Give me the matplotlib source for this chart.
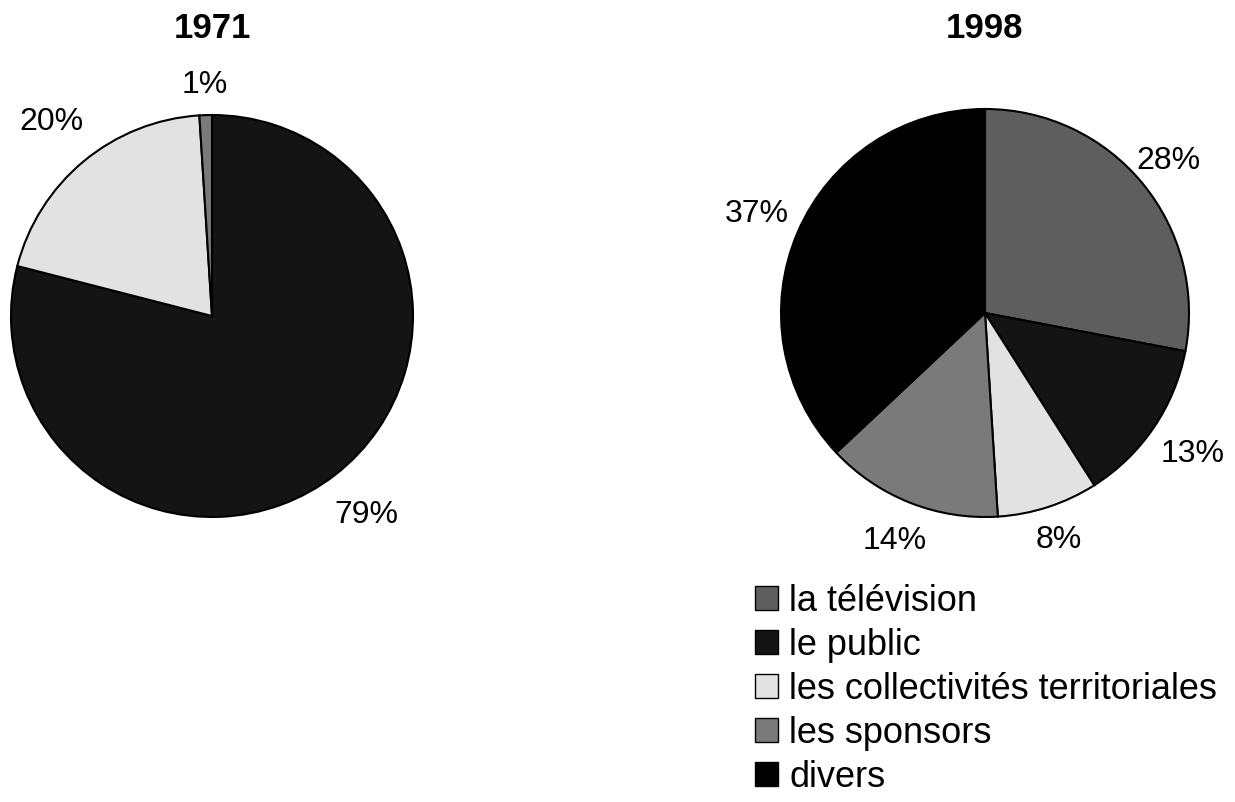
import matplotlib
matplotlib.use("Agg")
import numpy as np
import matplotlib.pyplot as plt
from matplotlib.patches import Patch

plt.rcParams['font.family'] = ['Liberation Sans', 'DejaVu Sans']

categories = ["la télévision", "le public", "les collectivités territoriales",
              "les sponsors", "divers"]
colors = ["#5e5e5e", "#141414", "#e2e2e2", "#7a7a7a", "#000000"]

years = ["1971", "1998"]
vals_1971 = [0, 79, 20, 1, 0]
vals_1998 = [28, 13, 8, 14, 37]

W, H = 1235, 802
fig = plt.figure(figsize=(W / 100, H / 100), dpi=100)

def add_pie(cx, cy, r, vals, title, dists):
    ax = fig.add_axes([(cx - r) / W, 1 - (cy + r) / H, 2 * r / W, 2 * r / H])
    idx = [i for i, v in enumerate(vals) if v > 0]
    v = [vals[i] for i in idx]
    c = [colors[i] for i in idx]
    wedges, texts, autotexts = ax.pie(
        v, colors=c, startangle=90, counterclock=False,
        autopct='%d%%', pctdistance=1.2,
        wedgeprops=dict(edgecolor='black', linewidth=1.5),
        textprops=dict(fontsize=23, color='black'), radius=1.0)
    for w, t, d in zip(wedges, autotexts, dists):
        a = np.deg2rad((w.theta1 + w.theta2) / 2)
        t.set_position((d * np.cos(a), d * np.sin(a)))
    ax.set_xlim(-1, 1)
    ax.set_ylim(-1, 1)
    ax.set_aspect('equal')
    ax.axis('off')
    fig.text(cx / W, 1 - 28 / H, title, ha='center', va='center',
             fontsize=25, fontweight='bold')
    return ax

add_pie(212, 316, 201, vals_1971, years[0], [1.25, 1.25, 1.15])
add_pie(985, 313, 204, vals_1998, years[1], [1.17, 1.23, 1.17, 1.2, 1.22])

handles = [Patch(facecolor=colors[i], edgecolor='black', linewidth=1)
           for i in range(len(categories))]
fig.legend(handles, categories, loc='upper left',
           bbox_to_anchor=(755 / W, 1 - 584 / H), frameon=False,
           fontsize=26, handlelength=0.65, handleheight=0.65,
           handletextpad=0.3, labelspacing=0.25, borderpad=0, borderaxespad=0)

fig.savefig("out.png", dpi=100)
